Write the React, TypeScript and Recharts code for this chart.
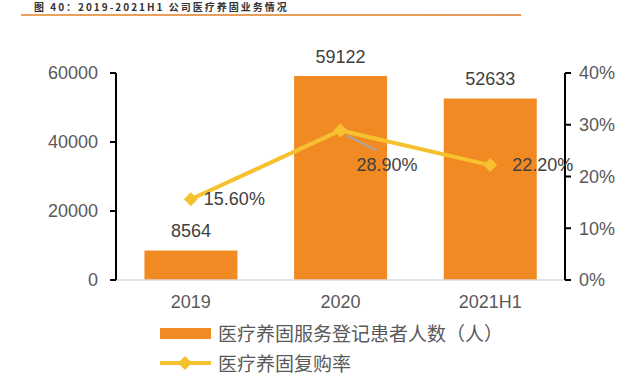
import { ComposedChart, Bar, Line, XAxis, YAxis, LabelList } from 'recharts';

const categories = ['2019', '2020', '2021H1'];
const patients = [8564, 59122, 52633];
const repurchase = [0.156, 0.289, 0.222];
const leftTicks = [0, 20000, 40000, 60000];
const rightTicks = [0, 0.1, 0.2, 0.3, 0.4];

const data = categories.map((name, i) => ({ name, patients: patients[i], rate: repurchase[i] }));

const BAR = '#f28a24';
const LINE = '#f6c12e';
const TEXT = '#595959';
const FONT = '"Liberation Sans", Arial, "Noto Sans CJK SC", sans-serif';

const Diamond = (props: any) => {
  const { cx, cy } = props;
  const r = 7;
  return <polygon points={`${cx},${cy - r} ${cx + r},${cy} ${cx},${cy + r} ${cx - r},${cy}`} fill={LINE} />;
};

const RATE_OFFSETS = [
  { dx: 13, dy: 0 },
  { dx: 16, dy: 35 },
  { dx: 22, dy: 0 },
];

const RateLabel = (props: any) => {
  const { x, y, value, index } = props;
  const o = RATE_OFFSETS[index];
  return (
    <g>
      {index === 1 && <line x1={x + 6} y1={y + 5} x2={x + 36} y2={y + 20} stroke="#a6a6a6" strokeWidth={2} />}
      <text x={x + o.dx} y={y + o.dy} dominantBaseline="central" fill="#404040" fontSize={18} fontFamily={FONT}>
        {(value * 100).toFixed(2)}%
      </text>
    </g>
  );
};

export default function App() {
  return (
    <div style={{ position: 'absolute', left: 0, top: 0, width: 640, height: 380, background: '#fff', overflow: 'hidden', fontFamily: FONT }}>
      <div style={{ position: 'absolute', left: 34, top: 0, fontSize: 10, lineHeight: '14px', fontWeight: 'bold', letterSpacing: 2, color: '#333', fontFamily: '"Noto Sans CJK SC", sans-serif', whiteSpace: 'nowrap' }}>
        图 40：2019-2021H1 公司医疗养固业务情况
      </div>
      <div style={{ position: 'absolute', left: 21, top: 14, width: 500, height: 2, background: 'linear-gradient(90deg, #e9a25c, #e39a58)' }} />
      <ComposedChart width={640} height={380} data={data} margin={{ top: 73, right: 0, bottom: 0, left: 0 }} barCategoryGap="19%">
        <XAxis dataKey="name" height={100} tickLine={false} axisLine={{ stroke: '#d9d9d9', strokeWidth: 1.5 }}
          tick={{ fill: TEXT, fontSize: 18, fontFamily: FONT }} tickMargin={9} />
        <YAxis yAxisId="left" width={116} domain={[0, 60000]} ticks={leftTicks} interval={0}
          axisLine={{ stroke: '#000', strokeWidth: 2 }} tickLine={{ stroke: '#000', strokeWidth: 2 }} tickSize={6} tickMargin={12}
          tick={{ fill: TEXT, fontSize: 18, fontFamily: FONT }} />
        <YAxis yAxisId="right" orientation="right" width={75} domain={[0, 0.4]} ticks={rightTicks} interval={0}
          axisLine={{ stroke: '#000', strokeWidth: 2 }} tickLine={{ stroke: '#000', strokeWidth: 2 }} tickSize={6} tickMargin={8}
          tickFormatter={(v: number) => `${Math.round(v * 100)}%`}
          tick={{ fill: TEXT, fontSize: 18, fontFamily: FONT }} />
        <Bar yAxisId="left" dataKey="patients" fill={BAR} isAnimationActive={false}>
          <LabelList dataKey="patients" position="top" offset={13} fill="#404040" fontSize={18} fontFamily={FONT} />
        </Bar>
        <Line yAxisId="right" dataKey="rate" stroke={LINE} strokeWidth={4} dot={<Diamond />} activeDot={false} isAnimationActive={false}>
          <LabelList dataKey="rate" content={<RateLabel />} />
        </Line>
      </ComposedChart>
      <div style={{ position: 'absolute', left: 160, top: 318, fontSize: 19, color: TEXT, fontFamily: '"Noto Sans CJK SC", sans-serif', lineHeight: '30px' }}>
        <div style={{ display: 'flex', alignItems: 'center' }}>
          <span style={{ display: 'inline-block', width: 51, height: 11, background: BAR, marginRight: 7 }} />
          医疗养固服务登记患者人数（人）
        </div>
        <div style={{ display: 'flex', alignItems: 'center' }}>
          <span style={{ position: 'relative', display: 'inline-block', width: 51, height: 14, marginRight: 7 }}>
            <span style={{ position: 'absolute', left: 0, top: 5, width: 51, height: 4, background: LINE }} />
            <span style={{ position: 'absolute', left: 20, top: 2, width: 10, height: 10, background: LINE, transform: 'rotate(45deg)' }} />
          </span>
          医疗养固复购率
        </div>
      </div>
    </div>
  );
}
